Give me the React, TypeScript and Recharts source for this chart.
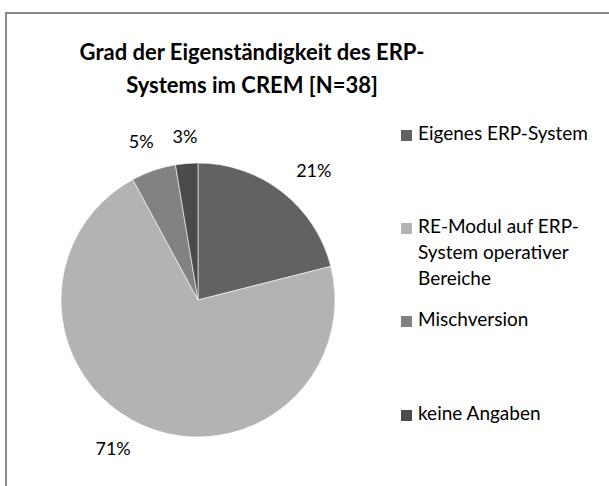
import React from "react";
import { PieChart, Pie, Cell, Legend } from "recharts";

const categories = ["Eigenes ERP-System", "RE-Modul auf ERP-System operativer Bereiche", "Mischversion", "keine Angaben"];
const legendLines = [["Eigenes ERP-System"], ["RE-Modul auf ERP-", "System operativer", "Bereiche"], ["Mischversion"], ["keine Angaben"]];
const counts = [8, 27, 2, 1];
const percentLabels = ["21%", "71%", "5%", "3%"];
const colors = ["#626262", "#b3b3b3", "#828282", "#4b4b4b"];
const titleLines = ["Grad der Eigenständigkeit des ERP-", "Systems im CREM [N=38]"];

const data = categories.map((name, i) => ({ name, value: counts[i], label: percentLabels[i] }));

const FONT = "Lato, 'Open Sans', sans-serif";
const RAD = Math.PI / 180;
// small style nudges for label placement (Excel "best fit" look)
const LABEL_NUDGE = [
  { dx: 12, dy: 3 },
  { dx: -17, dy: -7 },
  { dx: -2, dy: 1 },
  { dx: 1, dy: 4 },
];

const renderLabel = (props: any) => {
  const { cx, cy, midAngle, outerRadius, index } = props;
  const r = outerRadius + 32;
  const x = cx + r * Math.cos(-midAngle * RAD) + LABEL_NUDGE[index].dx;
  const y = cy + r * Math.sin(-midAngle * RAD) + LABEL_NUDGE[index].dy;
  return (
    <text x={x} y={y} textAnchor="middle" dominantBaseline="central" fill="#000" fontSize={18} fontFamily={FONT}>
      {percentLabels[index]}
    </text>
  );
};

const legendTops = [120, 213, 306, 400];

const renderLegend = () => (
  <div style={{ position: "relative", width: 609, height: 486 }}>
    {legendLines.map((lines, i) => (
      <div key={i} style={{ position: "absolute", left: 401, top: legendTops[i], fontFamily: FONT, fontSize: 19, color: "#000", lineHeight: "26px" }}>
        <span style={{ position: "absolute", left: 0, top: 10, width: 11, height: 11, background: colors[i] }} />
        <div style={{ marginLeft: 17, whiteSpace: "nowrap" }}>
          {lines.map((l, j) => (
            <div key={j}>{l}</div>
          ))}
        </div>
      </div>
    ))}
  </div>
);

export default function App() {
  return (
    <div style={{ position: "absolute", left: 0, top: 0, width: 609, height: 486, background: "#fff", overflow: "hidden" }}>
      <div style={{ position: "absolute", left: 5, top: 12, width: 700, height: 600, border: "2px solid #8a8a8a" }} />
      <div style={{ position: "absolute", left: 52, width: 400, top: 35, textAlign: "center", fontFamily: FONT, fontWeight: 700, fontSize: 22, lineHeight: "33px", color: "#000" }}>
        {titleLines.map((t, i) => (
          <div key={i}>{t}</div>
        ))}
      </div>
      <div style={{ position: "absolute", left: 0, top: 0 }}>
        <PieChart width={609} height={486} margin={{ top: 0, right: 0, bottom: 0, left: 0 }}>
          <Pie
            data={data}
            dataKey="value"
            nameKey="name"
            cx={198}
            cy={300}
            outerRadius={137}
            startAngle={90}
            endAngle={-270}
            stroke="#ffffff"
            strokeWidth={0.6}
            label={renderLabel}
            labelLine={false}
            isAnimationActive={false}
          >
            {data.map((d, i) => (
              <Cell key={d.name} fill={colors[i]} />
            ))}
          </Pie>
          <Legend content={renderLegend} wrapperStyle={{ left: 0, top: 0, width: 609, height: 486 }} />
        </PieChart>
      </div>
    </div>
  );
}
